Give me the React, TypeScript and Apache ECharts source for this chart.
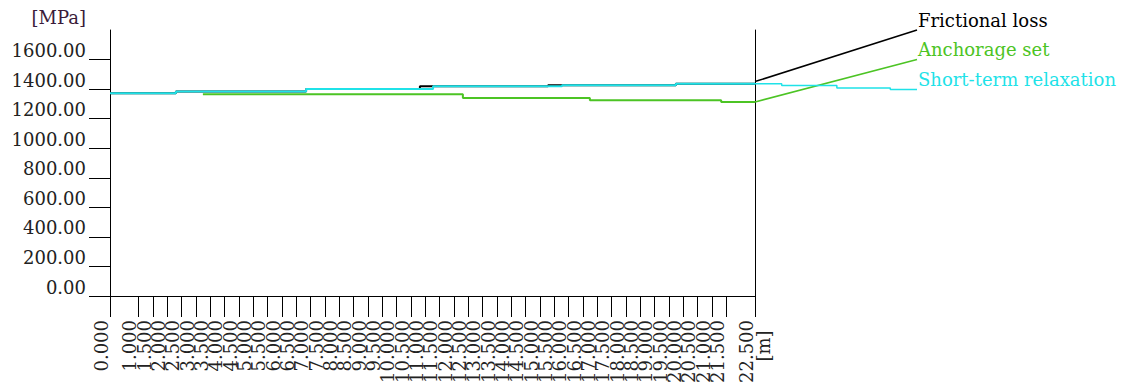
import React, { useEffect, useRef } from "react";
import * as echarts from "echarts";

// Axis setup
const xMin = 0;
const xMax = 22.5;
const xStep = 0.5;
const leaderXMax = 28.14;
const yMin = 0;
const yMax = 1800;
const yStep = 200;
const yLabelValues = [0, 200, 400, 600, 800, 1000, 1200, 1400, 1600];

// Frictional loss (step line, then leader to its label)
const frictionEdges = [0, 2.3, 6.84, 10.81, 15.28, 19.74, 22.5];
const frictionLevels = [1372, 1383, 1400, 1419, 1426, 1437];
const frictionLeaderX = [22.5, 28.14];
const frictionLeaderY = [1451, 1800];

// Anchorage set
const anchorEdges = [3.24, 12.31, 16.74, 21.32, 22.5];
const anchorLevels = [1365, 1340, 1324, 1313];
const anchorLeaderX = [22.5, 28.14];
const anchorLeaderY = [1313, 1600];

// Short-term relaxation
const relaxEdges = [0, 2.3, 6.84, 11.27, 15.77, 19.74, 22.5];
const relaxLevels = [1372, 1383, 1400, 1419, 1426, 1437];
const relaxTailEdges = [22.5, 23.43, 25.35, 27.21, 28.14];
const relaxTailLevels = [1437, 1424, 1408, 1397];

const seriesNames = ["Frictional loss", "Anchorage set", "Short-term relaxation"];
const seriesColors = ["#000000", "#4cc424", "#1fe2e8"];

const FONT = "DejaVu Serif";

function steps(edges: number[], levels: number[]): number[][] {
  const pts: number[][] = [];
  for (let i = 0; i < levels.length; i++) {
    pts.push([edges[i], levels[i]]);
    pts.push([edges[i + 1], levels[i]]);
  }
  return pts;
}

function pairs(xs: number[], ys: number[]): number[][] {
  return xs.map((x, i) => [x, ys[i]]);
}

export default function App() {
  const ref = useRef<HTMLDivElement>(null);
  useEffect(() => {
    if (!ref.current) return;
    const chart = echarts.init(ref.current, null, { renderer: "svg" });
    const mainData = [
      steps(frictionEdges, frictionLevels),
      steps(anchorEdges, anchorLevels),
      steps(relaxEdges, relaxLevels),
    ];
    const leaderData = [
      pairs(frictionLeaderX, frictionLeaderY),
      pairs(anchorLeaderX, anchorLeaderY),
      steps(relaxTailEdges, relaxTailLevels),
    ];
    const mainSeries = seriesNames.map((name, i) => ({
      name,
      type: "line",
      xAxisIndex: 0,
      yAxisIndex: 0,
      data: mainData[i],
      showSymbol: false,
      symbol: "none",
      z: 2 + i,
      lineStyle: { color: seriesColors[i], width: 2 },
      itemStyle: { color: seriesColors[i] },
    }));
    const leaderSeries = seriesNames.map((name, i) => ({
      name,
      type: "line",
      xAxisIndex: 1,
      yAxisIndex: 1,
      data: leaderData[i],
      clip: false,
      showSymbol: false,
      symbol: "none",
      z: 2 + i,
      lineStyle: { color: seriesColors[i], width: 1.5 },
      itemStyle: { color: seriesColors[i] },
      endLabel: {
        show: true,
        formatter: "{a}",
        position: "right",
        distance: 0,
        verticalAlign: "bottom",
        offset: [1, -1],
        fontFamily: FONT,
        fontSize: 18,
        color: seriesColors[i],
      },
    }));
    chart.setOption({
      animation: false,
      backgroundColor: "#ffffff",
      grid: [
        { left: 110, right: 368, top: 30, bottom: 89, outerBoundsMode: "none", containLabel: false },
        { left: 755, right: 206, top: 30, bottom: 89, outerBoundsMode: "none", containLabel: false },
      ],
      xAxis: [
        {
          type: "value",
          gridIndex: 0,
          min: xMin,
          max: xMax,
          interval: xStep,
          splitLine: { show: false },
          axisLine: { show: true, lineStyle: { color: "#000", width: 1 } },
          axisTick: { show: true, length: 21, lineStyle: { color: "#000", width: 1 } },
          axisLabel: {
            show: true,
            rotate: 90,
            margin: 24,
            verticalAlign: "bottom",
            showMinLabel: true,
            showMaxLabel: true,
            fontFamily: FONT,
            fontSize: 18,
            color: "#222",
            formatter: (v: number) => v.toFixed(3),
          },
        },
        {
          type: "value",
          gridIndex: 1,
          min: xMax,
          max: leaderXMax,
          show: false,
        },
      ],
      yAxis: [
        {
          type: "value",
          gridIndex: 0,
          min: yMin,
          max: yMax,
          interval: yStep,
          position: "left",
          name: "[MPa]",
          nameLocation: "end",
          nameGap: 4,
          nameTextStyle: {
            fontFamily: FONT,
            fontSize: 18,
            color: "#3a1c3a",
            align: "right",
            padding: [0, 24, 0, 0],
          },
          splitLine: { show: false },
          axisLine: { show: true, lineStyle: { color: "#000", width: 1 } },
          axisTick: {
            show: true,
            length: 21,
            customValues: yLabelValues,
            lineStyle: { color: "#000", width: 1 },
          },
          axisLabel: {
            show: true,
            margin: 24,
            customValues: yLabelValues,
            fontFamily: FONT,
            fontSize: 18,
            color: "#222",
            verticalAlign: "bottom",
            formatter: (v: number) => v.toFixed(2),
          },
        },
        {
          type: "value",
          gridIndex: 1,
          min: yMin,
          max: yMax,
          interval: yStep,
          position: "left",
          splitLine: { show: false },
          axisLine: { show: true, lineStyle: { color: "#000", width: 1 } },
          axisTick: { show: false },
          axisLabel: { show: false },
        },
      ],
      graphic: [
        {
          type: "text",
          x: 763,
          y: 346,
          rotation: Math.PI / 2,
          style: {
            text: "[m]",
            font: `18px "${FONT}"`,
            fill: "#222",
            align: "center",
            verticalAlign: "middle",
          },
        },
      ],
      series: [...mainSeries, ...leaderSeries],
    });
    return () => chart.dispose();
  }, []);
  return (
    <div
      ref={ref}
      style={{ position: "fixed", left: 0, top: 0, width: 1123, height: 385 }}
    />
  );
}
